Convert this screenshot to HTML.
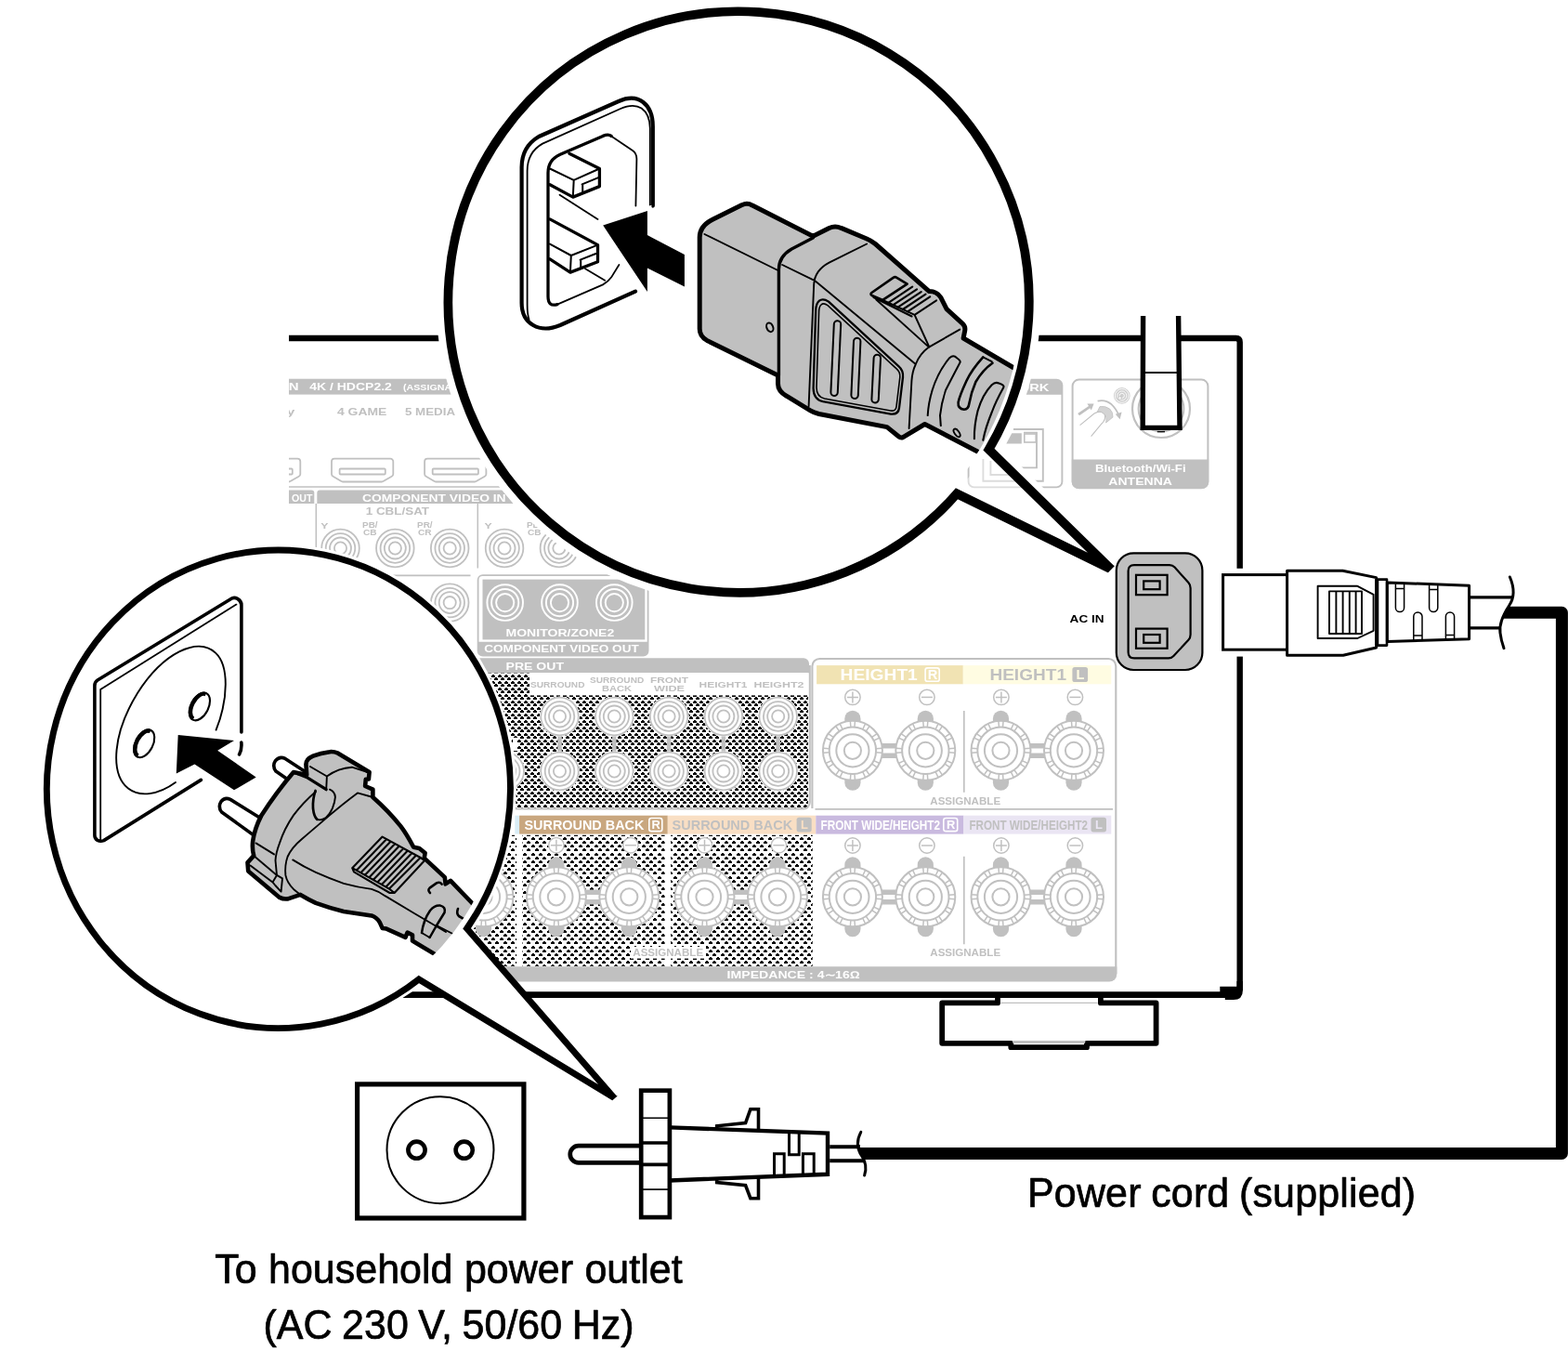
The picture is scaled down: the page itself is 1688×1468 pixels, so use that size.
<!DOCTYPE html>
<html lang="en">
<head>
<meta charset="utf-8">
<title>Connecting the power cord</title>
<style>
html,body{margin:0;padding:0;background:#fff;}
body{width:1688px;height:1468px;overflow:hidden;font-family:"Liberation Sans",sans-serif;}
svg{display:block;will-change:transform;}
svg text{font-family:"Liberation Sans",sans-serif;}
.k{fill:none;stroke:#000;stroke-linejoin:round;stroke-linecap:round;}
.kb{fill:none;stroke:#000;stroke-linejoin:miter;stroke-linecap:butt;}
.f{fill:#c0c0c0;stroke:#000;stroke-linejoin:round;stroke-linecap:round;}
.w{fill:#fff;stroke:#000;stroke-linejoin:round;stroke-linecap:round;}
.g{fill:none;stroke:#c0c0c0;stroke-linejoin:round;stroke-linecap:round;}
.lbl{font-weight:bold;fill:#fff;}
.glbl{font-weight:bold;fill:#c0c0c0;}
</style>
</head>
<body>
<svg width="1688" height="1468" viewBox="0 0 1688 1468">
<rect width="1688" height="1468" fill="#fff"/>
<g id="defs">
<defs>
<pattern id="dz" width="7" height="7" patternUnits="userSpaceOnUse" x="0" y="1">
<path d="M0 1h4v2h-4z M1 0h2v1h-2z M4 5h3v2h-3z M0 5h1v2h-1z M5 4h2v1h-2z" fill="#000" shape-rendering="crispEdges"/>
</pattern>
<pattern id="dz2" width="17" height="25" patternUnits="userSpaceOnUse" x="2" y="1">
<path d="M0 1h4v2h-4z M1 0h2v1h-2z M9 1h4v2h-4z M10 0h2v1h-2z M4 5h4v2h-4z M5 4h2v1h-2z M13 5h4v2h-4z M14 4h2v1h-2z M0 9h4v2h-4z M1 8h2v1h-2z M9 9h4v2h-4z M10 8h2v1h-2z M4 13h4v2h-4z M5 12h2v1h-2z M13 13h4v2h-4z M14 12h2v1h-2z M0 18h4v2h-4z M1 17h2v1h-2z M9 18h4v2h-4z M10 17h2v1h-2z M4 22h4v2h-4z M5 21h2v1h-2z M13 22h4v2h-4z M14 21h2v1h-2z" fill="#000" shape-rendering="crispEdges"/>
</pattern>
<clipPath id="panelclip"><rect x="311" y="380" width="1030" height="690"/></clipPath>
<clipPath id="topclip"><circle cx="795.1" cy="325" r="304.2"/></clipPath>
<clipPath id="botclip"><ellipse cx="299.9" cy="849.25" rx="240.4" ry="248"/></clipPath>
</defs>
</g>
<g id="panel">
<g clip-path="url(#panelclip)">
<rect x="300" y="407.7" width="260" height="16.9" fill="#c0c0c0"/>
<text x="321.6" y="420.3" font-size="11.8" font-weight="bold" fill="#fff" text-anchor="end" textLength="15" lengthAdjust="spacingAndGlyphs">IN</text>
<text x="333.2" y="420.3" font-size="11.8" font-weight="bold" fill="#fff" textLength="88.7" lengthAdjust="spacingAndGlyphs">4K / HDCP2.2</text>
<text x="434" y="420" font-size="9.4" font-weight="bold" fill="#fff" textLength="77" lengthAdjust="spacingAndGlyphs">(ASSIGNABLE)</text>
<text x="317.4" y="446.8" font-size="11.4" font-weight="bold" fill="#c0c0c0" text-anchor="end" textLength="66" lengthAdjust="spacingAndGlyphs">3 Blu-ray</text>
<text x="363" y="446.8" font-size="11.4" font-weight="bold" fill="#c0c0c0" textLength="53.4" lengthAdjust="spacingAndGlyphs">4 GAME</text>
<text x="436" y="446.8" font-size="11.4" font-weight="bold" fill="#c0c0c0" textLength="54" lengthAdjust="spacingAndGlyphs">5 MEDIA</text>
<path d="M260 493.7 H320.3 a3 3 0 0 1 3 3 V510.2 a3 3 0 0 1 -1.6 2.6 L312.5 517.9 a3 3 0 0 1 -1.5 .6 H269 a3 3 0 0 1 -1.5 -.6 L258.6 512.8 a3 3 0 0 1 -1.6 -2.6 V496.7 a3 3 0 0 1 3 -3 Z" fill="none" stroke="#c0c0c0" stroke-width="1.8"/>
<rect x="265.6" y="504.5" width="49.2" height="6" fill="none" stroke="#c0c0c0" stroke-width="1.8" rx="1"/>
<path d="M360 493.7 H420.3 a3 3 0 0 1 3 3 V510.2 a3 3 0 0 1 -1.6 2.6 L412.5 517.9 a3 3 0 0 1 -1.5 .6 H369 a3 3 0 0 1 -1.5 -.6 L358.6 512.8 a3 3 0 0 1 -1.6 -2.6 V496.7 a3 3 0 0 1 3 -3 Z" fill="none" stroke="#c0c0c0" stroke-width="1.8"/>
<rect x="365.6" y="504.5" width="49.2" height="6" fill="none" stroke="#c0c0c0" stroke-width="1.8" rx="1"/>
<path d="M460.1 493.7 H520.4 a3 3 0 0 1 3 3 V510.2 a3 3 0 0 1 -1.6 2.6 L512.6 517.9 a3 3 0 0 1 -1.5 .6 H469.1 a3 3 0 0 1 -1.5 -.6 L458.7 512.8 a3 3 0 0 1 -1.6 -2.6 V496.7 a3 3 0 0 1 3 -3 Z" fill="none" stroke="#c0c0c0" stroke-width="1.8"/>
<rect x="465.7" y="504.5" width="49.2" height="6" fill="none" stroke="#c0c0c0" stroke-width="1.8" rx="1"/>
<path d="M300 524 H560" fill="none" stroke="#c0c0c0" stroke-width="1.6"/>
<path d="M300 527.6 H335.3 A3 3 0 0 1 338.3 530.6 V542.1 H300 V527.6 Z" fill="#c0c0c0"/>
<text x="314" y="539.5" font-size="10.6" font-weight="bold" fill="#fff" textLength="22.4" lengthAdjust="spacingAndGlyphs">OUT</text>
<path d="M344.3 527.6 H570 V542.1 H341.3 V530.6 A3 3 0 0 1 344.3 527.6 Z" fill="#c0c0c0"/>
<text x="390" y="539.5" font-size="11" font-weight="bold" fill="#fff" textLength="154.6" lengthAdjust="spacingAndGlyphs">COMPONENT VIDEO IN</text>
<path d="M340.3 542 V612 M514.3 542 V611.6" fill="none" stroke="#c0c0c0" stroke-width="1.5"/>
<path d="M400 619.3 H506.5" fill="none" stroke="#c0c0c0" stroke-width="1.8"/>
<text x="393.7" y="554.3" font-size="10.4" font-weight="bold" fill="#c0c0c0" textLength="68.4" lengthAdjust="spacingAndGlyphs">1 CBL/SAT</text>
<text x="345.3" y="568.6" font-size="9.6" font-weight="bold" fill="#c0c0c0" textLength="8.2" lengthAdjust="spacingAndGlyphs">Y</text>
<text x="390" y="568.4" font-size="8.6" font-weight="bold" fill="#c0c0c0" textLength="16.6" lengthAdjust="spacingAndGlyphs">PB/</text>
<text x="391" y="576" font-size="8.6" font-weight="bold" fill="#c0c0c0" textLength="14.6" lengthAdjust="spacingAndGlyphs">CB</text>
<text x="449" y="568.4" font-size="8.6" font-weight="bold" fill="#c0c0c0" textLength="16.6" lengthAdjust="spacingAndGlyphs">PR/</text>
<text x="450" y="576" font-size="8.6" font-weight="bold" fill="#c0c0c0" textLength="14.6" lengthAdjust="spacingAndGlyphs">CR</text>
<text x="521.6" y="568.6" font-size="9.6" font-weight="bold" fill="#c0c0c0" textLength="8.2" lengthAdjust="spacingAndGlyphs">Y</text>
<text x="566.9" y="568.4" font-size="8.6" font-weight="bold" fill="#c0c0c0" textLength="16.6" lengthAdjust="spacingAndGlyphs">PB/</text>
<text x="567.9" y="576" font-size="8.6" font-weight="bold" fill="#c0c0c0" textLength="14.6" lengthAdjust="spacingAndGlyphs">CB</text>
<circle cx="366.5" cy="590" r="20.3" fill="none" stroke="#c0c0c0" stroke-width="1.8"/>
<circle cx="366.5" cy="590" r="15.8" fill="none" stroke="#c0c0c0" stroke-width="1.8"/>
<circle cx="366.5" cy="590" r="11.5" fill="none" stroke="#c0c0c0" stroke-width="1.8"/>
<circle cx="366.5" cy="590" r="6.6" fill="none" stroke="#c0c0c0" stroke-width="1.8"/>
<circle cx="425.35" cy="590" r="20.3" fill="none" stroke="#c0c0c0" stroke-width="1.8"/>
<circle cx="425.35" cy="590" r="15.8" fill="none" stroke="#c0c0c0" stroke-width="1.8"/>
<circle cx="425.35" cy="590" r="11.5" fill="none" stroke="#c0c0c0" stroke-width="1.8"/>
<circle cx="425.35" cy="590" r="6.6" fill="none" stroke="#c0c0c0" stroke-width="1.8"/>
<circle cx="484.2" cy="590" r="20.3" fill="none" stroke="#c0c0c0" stroke-width="1.8"/>
<circle cx="484.2" cy="590" r="15.8" fill="none" stroke="#c0c0c0" stroke-width="1.8"/>
<circle cx="484.2" cy="590" r="11.5" fill="none" stroke="#c0c0c0" stroke-width="1.8"/>
<circle cx="484.2" cy="590" r="6.6" fill="none" stroke="#c0c0c0" stroke-width="1.8"/>
<circle cx="543.05" cy="590" r="20.3" fill="none" stroke="#c0c0c0" stroke-width="1.8"/>
<circle cx="543.05" cy="590" r="15.8" fill="none" stroke="#c0c0c0" stroke-width="1.8"/>
<circle cx="543.05" cy="590" r="11.5" fill="none" stroke="#c0c0c0" stroke-width="1.8"/>
<circle cx="543.05" cy="590" r="6.6" fill="none" stroke="#c0c0c0" stroke-width="1.8"/>
<circle cx="601.9" cy="590" r="20.3" fill="none" stroke="#c0c0c0" stroke-width="1.8"/>
<circle cx="601.9" cy="590" r="15.8" fill="none" stroke="#c0c0c0" stroke-width="1.8"/>
<circle cx="601.9" cy="590" r="11.5" fill="none" stroke="#c0c0c0" stroke-width="1.8"/>
<circle cx="601.9" cy="590" r="6.6" fill="none" stroke="#c0c0c0" stroke-width="1.8"/>
<circle cx="366.5" cy="648.6" r="20.3" fill="none" stroke="#c0c0c0" stroke-width="1.8"/>
<circle cx="366.5" cy="648.6" r="15.8" fill="none" stroke="#c0c0c0" stroke-width="1.8"/>
<circle cx="366.5" cy="648.6" r="11.5" fill="none" stroke="#c0c0c0" stroke-width="1.8"/>
<circle cx="366.5" cy="648.6" r="6.6" fill="none" stroke="#c0c0c0" stroke-width="1.8"/>
<circle cx="425.35" cy="648.6" r="20.3" fill="none" stroke="#c0c0c0" stroke-width="1.8"/>
<circle cx="425.35" cy="648.6" r="15.8" fill="none" stroke="#c0c0c0" stroke-width="1.8"/>
<circle cx="425.35" cy="648.6" r="11.5" fill="none" stroke="#c0c0c0" stroke-width="1.8"/>
<circle cx="425.35" cy="648.6" r="6.6" fill="none" stroke="#c0c0c0" stroke-width="1.8"/>
<circle cx="484.2" cy="648.6" r="20.3" fill="none" stroke="#c0c0c0" stroke-width="1.8"/>
<circle cx="484.2" cy="648.6" r="15.8" fill="none" stroke="#c0c0c0" stroke-width="1.8"/>
<circle cx="484.2" cy="648.6" r="11.5" fill="none" stroke="#c0c0c0" stroke-width="1.8"/>
<circle cx="484.2" cy="648.6" r="6.6" fill="none" stroke="#c0c0c0" stroke-width="1.8"/>
<path d="M519.6 619.1 H692.6 A5 5 0 0 1 697.6 624.1 V700.5 A5 5 0 0 1 692.6 705.5 H519.6 A5 5 0 0 1 514.6 700.5 V624.1 A5 5 0 0 1 519.6 619.1 Z" fill="none" stroke="#c0c0c0" stroke-width="1.8"/>
<rect x="519.5" y="623.6" width="174.8" height="64.8" fill="#c0c0c0"/>
<circle cx="543.7" cy="648.6" r="19.3" fill="none" stroke="#fff" stroke-width="1.9"/>
<circle cx="543.7" cy="648.6" r="14.6" fill="none" stroke="#fff" stroke-width="1.9"/>
<circle cx="543.7" cy="648.6" r="9.6" fill="none" stroke="#fff" stroke-width="1.9"/>
<circle cx="602.5" cy="648.6" r="19.3" fill="none" stroke="#fff" stroke-width="1.9"/>
<circle cx="602.5" cy="648.6" r="14.6" fill="none" stroke="#fff" stroke-width="1.9"/>
<circle cx="602.5" cy="648.6" r="9.6" fill="none" stroke="#fff" stroke-width="1.9"/>
<circle cx="661.3" cy="648.6" r="19.3" fill="none" stroke="#fff" stroke-width="1.9"/>
<circle cx="661.3" cy="648.6" r="14.6" fill="none" stroke="#fff" stroke-width="1.9"/>
<circle cx="661.3" cy="648.6" r="9.6" fill="none" stroke="#fff" stroke-width="1.9"/>
<text x="544.5" y="685.3" font-size="11" font-weight="bold" fill="#fff" textLength="116.8" lengthAdjust="spacingAndGlyphs">MONITOR/ZONE2</text>
<path d="M515 690.8 H697.6 V700.5 A5 5 0 0 1 692.6 705.5 H520 A5 5 0 0 1 515 700.5 V690.8 Z" fill="#c0c0c0"/>
<text x="521.3" y="701.8" font-size="11" font-weight="bold" fill="#fff" textLength="166.4" lengthAdjust="spacingAndGlyphs">COMPONENT VIDEO OUT</text>
<path d="M500 708.2 H865 A6 6 0 0 1 871 714.2 V724.6 H500 V708.2 Z" fill="#c0c0c0"/>
<text x="544.5" y="720.9" font-size="11.4" font-weight="bold" fill="#fff" textLength="62.5" lengthAdjust="spacingAndGlyphs">PRE OUT</text>
<rect x="500" y="724.6" width="370" height="144.9" fill="url(#dz)"/>
<rect x="570" y="724" width="300.6" height="24.4" fill="#fff"/>
<path d="M871.8 716 V863 a7 7 0 0 1 -7 7.4 H500" fill="none" stroke="#c0c0c0" stroke-width="2"/>
<text x="571" y="740" font-size="9.6" font-weight="bold" fill="#c0c0c0" textLength="58.5" lengthAdjust="spacingAndGlyphs">SURROUND</text>
<text x="664.1" y="735" font-size="8.6" font-weight="bold" fill="#c0c0c0" text-anchor="middle" textLength="58.2" lengthAdjust="spacingAndGlyphs">SURROUND</text>
<text x="664.1" y="744.2" font-size="8.6" font-weight="bold" fill="#c0c0c0" text-anchor="middle" textLength="32" lengthAdjust="spacingAndGlyphs">BACK</text>
<text x="720.5" y="735" font-size="8.6" font-weight="bold" fill="#c0c0c0" text-anchor="middle" textLength="41" lengthAdjust="spacingAndGlyphs">FRONT</text>
<text x="720.5" y="744.2" font-size="8.6" font-weight="bold" fill="#c0c0c0" text-anchor="middle" textLength="33" lengthAdjust="spacingAndGlyphs">WIDE</text>
<text x="752.5" y="740" font-size="9.6" font-weight="bold" fill="#c0c0c0" textLength="52" lengthAdjust="spacingAndGlyphs">HEIGHT1</text>
<text x="811.5" y="740" font-size="9.6" font-weight="bold" fill="#c0c0c0" textLength="54" lengthAdjust="spacingAndGlyphs">HEIGHT2</text>
<circle cx="543.7" cy="830" r="21.6" fill="#fff"/>
<circle cx="543.7" cy="830" r="20.3" fill="none" stroke="#c0c0c0" stroke-width="1.8"/>
<circle cx="543.7" cy="830" r="15.8" fill="none" stroke="#c0c0c0" stroke-width="1.8"/>
<circle cx="543.7" cy="830" r="11.5" fill="none" stroke="#c0c0c0" stroke-width="1.8"/>
<circle cx="543.7" cy="830" r="6.6" fill="none" stroke="#c0c0c0" stroke-width="1.8"/>
<rect x="600.2" y="771" width="4.6" height="59" fill="#c0c0c0"/>
<circle cx="602.5" cy="771" r="21.6" fill="#fff"/>
<circle cx="602.5" cy="771" r="20.3" fill="none" stroke="#c0c0c0" stroke-width="1.8"/>
<circle cx="602.5" cy="771" r="15.8" fill="none" stroke="#c0c0c0" stroke-width="1.8"/>
<circle cx="602.5" cy="771" r="11.5" fill="none" stroke="#c0c0c0" stroke-width="1.8"/>
<circle cx="602.5" cy="771" r="6.6" fill="none" stroke="#c0c0c0" stroke-width="1.8"/>
<circle cx="602.5" cy="830" r="21.6" fill="#fff"/>
<circle cx="602.5" cy="830" r="20.3" fill="none" stroke="#c0c0c0" stroke-width="1.8"/>
<circle cx="602.5" cy="830" r="15.8" fill="none" stroke="#c0c0c0" stroke-width="1.8"/>
<circle cx="602.5" cy="830" r="11.5" fill="none" stroke="#c0c0c0" stroke-width="1.8"/>
<circle cx="602.5" cy="830" r="6.6" fill="none" stroke="#c0c0c0" stroke-width="1.8"/>
<rect x="659" y="771" width="4.6" height="59" fill="#c0c0c0"/>
<circle cx="661.3" cy="771" r="21.6" fill="#fff"/>
<circle cx="661.3" cy="771" r="20.3" fill="none" stroke="#c0c0c0" stroke-width="1.8"/>
<circle cx="661.3" cy="771" r="15.8" fill="none" stroke="#c0c0c0" stroke-width="1.8"/>
<circle cx="661.3" cy="771" r="11.5" fill="none" stroke="#c0c0c0" stroke-width="1.8"/>
<circle cx="661.3" cy="771" r="6.6" fill="none" stroke="#c0c0c0" stroke-width="1.8"/>
<circle cx="661.3" cy="830" r="21.6" fill="#fff"/>
<circle cx="661.3" cy="830" r="20.3" fill="none" stroke="#c0c0c0" stroke-width="1.8"/>
<circle cx="661.3" cy="830" r="15.8" fill="none" stroke="#c0c0c0" stroke-width="1.8"/>
<circle cx="661.3" cy="830" r="11.5" fill="none" stroke="#c0c0c0" stroke-width="1.8"/>
<circle cx="661.3" cy="830" r="6.6" fill="none" stroke="#c0c0c0" stroke-width="1.8"/>
<rect x="717.8" y="771" width="4.6" height="59" fill="#c0c0c0"/>
<circle cx="720.1" cy="771" r="21.6" fill="#fff"/>
<circle cx="720.1" cy="771" r="20.3" fill="none" stroke="#c0c0c0" stroke-width="1.8"/>
<circle cx="720.1" cy="771" r="15.8" fill="none" stroke="#c0c0c0" stroke-width="1.8"/>
<circle cx="720.1" cy="771" r="11.5" fill="none" stroke="#c0c0c0" stroke-width="1.8"/>
<circle cx="720.1" cy="771" r="6.6" fill="none" stroke="#c0c0c0" stroke-width="1.8"/>
<circle cx="720.1" cy="830" r="21.6" fill="#fff"/>
<circle cx="720.1" cy="830" r="20.3" fill="none" stroke="#c0c0c0" stroke-width="1.8"/>
<circle cx="720.1" cy="830" r="15.8" fill="none" stroke="#c0c0c0" stroke-width="1.8"/>
<circle cx="720.1" cy="830" r="11.5" fill="none" stroke="#c0c0c0" stroke-width="1.8"/>
<circle cx="720.1" cy="830" r="6.6" fill="none" stroke="#c0c0c0" stroke-width="1.8"/>
<rect x="776.6" y="771" width="4.6" height="59" fill="#c0c0c0"/>
<circle cx="778.9" cy="771" r="21.6" fill="#fff"/>
<circle cx="778.9" cy="771" r="20.3" fill="none" stroke="#c0c0c0" stroke-width="1.8"/>
<circle cx="778.9" cy="771" r="15.8" fill="none" stroke="#c0c0c0" stroke-width="1.8"/>
<circle cx="778.9" cy="771" r="11.5" fill="none" stroke="#c0c0c0" stroke-width="1.8"/>
<circle cx="778.9" cy="771" r="6.6" fill="none" stroke="#c0c0c0" stroke-width="1.8"/>
<circle cx="778.9" cy="830" r="21.6" fill="#fff"/>
<circle cx="778.9" cy="830" r="20.3" fill="none" stroke="#c0c0c0" stroke-width="1.8"/>
<circle cx="778.9" cy="830" r="15.8" fill="none" stroke="#c0c0c0" stroke-width="1.8"/>
<circle cx="778.9" cy="830" r="11.5" fill="none" stroke="#c0c0c0" stroke-width="1.8"/>
<circle cx="778.9" cy="830" r="6.6" fill="none" stroke="#c0c0c0" stroke-width="1.8"/>
<rect x="835.4" y="771" width="4.6" height="59" fill="#c0c0c0"/>
<circle cx="837.7" cy="771" r="21.6" fill="#fff"/>
<circle cx="837.7" cy="771" r="20.3" fill="none" stroke="#c0c0c0" stroke-width="1.8"/>
<circle cx="837.7" cy="771" r="15.8" fill="none" stroke="#c0c0c0" stroke-width="1.8"/>
<circle cx="837.7" cy="771" r="11.5" fill="none" stroke="#c0c0c0" stroke-width="1.8"/>
<circle cx="837.7" cy="771" r="6.6" fill="none" stroke="#c0c0c0" stroke-width="1.8"/>
<circle cx="837.7" cy="830" r="21.6" fill="#fff"/>
<circle cx="837.7" cy="830" r="20.3" fill="none" stroke="#c0c0c0" stroke-width="1.8"/>
<circle cx="837.7" cy="830" r="15.8" fill="none" stroke="#c0c0c0" stroke-width="1.8"/>
<circle cx="837.7" cy="830" r="11.5" fill="none" stroke="#c0c0c0" stroke-width="1.8"/>
<circle cx="837.7" cy="830" r="6.6" fill="none" stroke="#c0c0c0" stroke-width="1.8"/>
<rect x="552" y="794" width="5" height="14" fill="#fff"/>
<path d="M874.4 870 V717 a8 8 0 0 1 8 -8 H1193.3 a8 8 0 0 1 8 8 V1048" fill="none" stroke="#c0c0c0" stroke-width="2.1"/>
<path d="M480 1040.2 H1202.3 V1048.6 A8 8 0 0 1 1194.3 1056.6 H480 V1040.2 Z" fill="#c0c0c0"/>
<text x="782.6" y="1052.6" font-size="11" font-weight="bold" fill="#fff" textLength="143" lengthAdjust="spacingAndGlyphs">IMPEDANCE : 4∼16Ω</text>
<path d="M877.5 870.9 H1198" fill="none" stroke="#c0c0c0" stroke-width="1.8"/>
<rect x="879.1" y="716.1" width="157.7" height="20.2" fill="#f1e3b3"/>
<text x="904.6" y="731.9" font-size="17" font-weight="bold" fill="#fff" textLength="83.2" lengthAdjust="spacingAndGlyphs">HEIGHT1</text>
<rect x="996.1" y="718.9" width="15.1" height="14.4" fill="none" stroke="#fff" stroke-width="1.6" rx="2.4"/>
<text x="1003.95" y="731.3" font-size="14.62" font-weight="bold" fill="#fff" text-anchor="middle">R</text>
<rect x="1036.8" y="716.1" width="159.5" height="20.2" fill="#fffce2"/>
<text x="1065.4" y="731.9" font-size="17" font-weight="bold" fill="#c0c0c0" textLength="82.6" lengthAdjust="spacingAndGlyphs">HEIGHT1</text>
<rect x="1154.4" y="718.1" width="16.7" height="16" fill="#c0c0c0" rx="2.6"/>
<text x="1163.05" y="731.3" font-size="14.62" font-weight="bold" fill="#fffce2" text-anchor="middle">L</text>
<rect x="554.3" y="877.7" width="4.8" height="19.9" fill="#d9edf6"/>
<rect x="559.1" y="877.7" width="159.7" height="19.9" fill="#c9a77f"/>
<text x="564.5" y="892.9" font-size="15" font-weight="bold" fill="#fff" textLength="128.9" lengthAdjust="spacingAndGlyphs">SURROUND BACK</text>
<rect x="698.8" y="880.5" width="14" height="14.1" fill="none" stroke="#fff" stroke-width="1.6" rx="2.4"/>
<text x="706.1" y="892.3" font-size="12.9" font-weight="bold" fill="#fff" text-anchor="middle">R</text>
<rect x="718.8" y="877.7" width="159.5" height="19.9" fill="#f9dfc4"/>
<text x="723.6" y="892.9" font-size="15" font-weight="bold" fill="#c0c0c0" textLength="129.5" lengthAdjust="spacingAndGlyphs">SURROUND BACK</text>
<rect x="857.6" y="879.7" width="16.1" height="15.7" fill="#c0c0c0" rx="2.6"/>
<text x="865.95" y="892.3" font-size="12.9" font-weight="bold" fill="#f9dfc4" text-anchor="middle">L</text>
<rect x="878.3" y="877.7" width="159.1" height="19.9" fill="#c9badf"/>
<text x="883.5" y="892.9" font-size="15" font-weight="bold" fill="#fff" textLength="128.5" lengthAdjust="spacingAndGlyphs">FRONT WIDE/HEIGHT2</text>
<rect x="1015.8" y="880.5" width="14.9" height="14.1" fill="none" stroke="#fff" stroke-width="1.6" rx="2.4"/>
<text x="1023.55" y="892.3" font-size="12.9" font-weight="bold" fill="#fff" text-anchor="middle">R</text>
<rect x="1037.4" y="877.7" width="158.9" height="19.9" fill="#eae5f3"/>
<text x="1043.5" y="892.9" font-size="15" font-weight="bold" fill="#c0c0c0" textLength="127.5" lengthAdjust="spacingAndGlyphs">FRONT WIDE/HEIGHT2</text>
<rect x="1174.5" y="879.7" width="16.5" height="15.7" fill="#c0c0c0" rx="2.6"/>
<text x="1183.05" y="892.3" font-size="12.9" font-weight="bold" fill="#eae5f3" text-anchor="middle">L</text>
<rect x="500" y="898.8" width="56" height="141" fill="url(#dz2)"/>
<rect x="562.5" y="898.8" width="153.1" height="141" fill="url(#dz2)"/>
<rect x="722.2" y="898.8" width="152.5" height="141" fill="url(#dz2)"/>
<rect x="679" y="1019" width="81" height="12.6" fill="#fff"/>
<rect x="942.9" y="800" width="28.4" height="16" fill="#c0c0c0"/>
<rect x="942.9" y="805.5" width="28.4" height="5" fill="#fff"/>
<path d="M909.3 777.8 V773.4 a8.6 8.6 0 0 1 17.2 0 V777.8 Z" fill="#c0c0c0"/>
<path d="M909.3 837.8 V842.2 a8.6 8.6 0 0 0 17.2 0 V837.8 Z" fill="#c0c0c0"/>
<circle cx="917.9" cy="807.8" r="32" fill="#fff" stroke="#c0c0c0" stroke-width="2"/>
<circle cx="917.9" cy="807.8" r="25.2" fill="none" stroke="#c0c0c0" stroke-width="2"/>
<path d="M915.88 782.68 L915.33 775.9 M919.92 782.68 L920.47 775.9 M928.71 785.04 L931.63 778.89 M932.21 787.06 L936.07 781.46 M938.64 793.49 L944.24 789.63 M940.66 796.99 L946.81 794.07 M943.02 805.78 L949.8 805.23 M943.02 809.82 L949.8 810.37 M940.66 818.61 L946.81 821.53 M938.64 822.11 L944.24 825.97 M932.21 828.54 L936.07 834.14 M928.71 830.56 L931.63 836.71 M919.92 832.92 L920.47 839.7 M915.88 832.92 L915.33 839.7 M907.09 830.56 L904.17 836.71 M903.59 828.54 L899.73 834.14 M897.16 822.11 L891.56 825.97 M895.14 818.61 L888.99 821.53 M892.78 809.82 L886 810.37 M892.78 805.78 L886 805.23 M895.14 796.99 L888.99 794.07 M897.16 793.49 L891.56 789.63 M903.59 787.06 L899.73 781.46 M907.09 785.04 L904.17 778.89" fill="none" stroke="#c0c0c0" stroke-width="1.5"/>
<circle cx="917.9" cy="807.8" r="17.6" fill="none" stroke="#c0c0c0" stroke-width="2"/>
<circle cx="917.9" cy="807.8" r="9.1" fill="none" stroke="#c0c0c0" stroke-width="2"/>
<path d="M987.7 777.8 V773.4 a8.6 8.6 0 0 1 17.2 0 V777.8 Z" fill="#c0c0c0"/>
<path d="M987.7 837.8 V842.2 a8.6 8.6 0 0 0 17.2 0 V837.8 Z" fill="#c0c0c0"/>
<circle cx="996.3" cy="807.8" r="32" fill="#fff" stroke="#c0c0c0" stroke-width="2"/>
<circle cx="996.3" cy="807.8" r="25.2" fill="none" stroke="#c0c0c0" stroke-width="2"/>
<path d="M994.28 782.68 L993.73 775.9 M998.32 782.68 L998.87 775.9 M1007.11 785.04 L1010.03 778.89 M1010.61 787.06 L1014.47 781.46 M1017.04 793.49 L1022.64 789.63 M1019.06 796.99 L1025.21 794.07 M1021.42 805.78 L1028.2 805.23 M1021.42 809.82 L1028.2 810.37 M1019.06 818.61 L1025.21 821.53 M1017.04 822.11 L1022.64 825.97 M1010.61 828.54 L1014.47 834.14 M1007.11 830.56 L1010.03 836.71 M998.32 832.92 L998.87 839.7 M994.28 832.92 L993.73 839.7 M985.49 830.56 L982.57 836.71 M981.99 828.54 L978.13 834.14 M975.56 822.11 L969.96 825.97 M973.54 818.61 L967.39 821.53 M971.18 809.82 L964.4 810.37 M971.18 805.78 L964.4 805.23 M973.54 796.99 L967.39 794.07 M975.56 793.49 L969.96 789.63 M981.99 787.06 L978.13 781.46 M985.49 785.04 L982.57 778.89" fill="none" stroke="#c0c0c0" stroke-width="1.5"/>
<circle cx="996.3" cy="807.8" r="17.6" fill="none" stroke="#c0c0c0" stroke-width="2"/>
<circle cx="996.3" cy="807.8" r="9.1" fill="none" stroke="#c0c0c0" stroke-width="2"/>
<rect x="1102.5" y="800" width="28.5" height="16" fill="#c0c0c0"/>
<rect x="1102.5" y="805.5" width="28.5" height="5" fill="#fff"/>
<path d="M1068.9 777.8 V773.4 a8.6 8.6 0 0 1 17.2 0 V777.8 Z" fill="#c0c0c0"/>
<path d="M1068.9 837.8 V842.2 a8.6 8.6 0 0 0 17.2 0 V837.8 Z" fill="#c0c0c0"/>
<circle cx="1077.5" cy="807.8" r="32" fill="#fff" stroke="#c0c0c0" stroke-width="2"/>
<circle cx="1077.5" cy="807.8" r="25.2" fill="none" stroke="#c0c0c0" stroke-width="2"/>
<path d="M1075.48 782.68 L1074.93 775.9 M1079.52 782.68 L1080.07 775.9 M1088.31 785.04 L1091.23 778.89 M1091.81 787.06 L1095.67 781.46 M1098.24 793.49 L1103.84 789.63 M1100.26 796.99 L1106.41 794.07 M1102.62 805.78 L1109.4 805.23 M1102.62 809.82 L1109.4 810.37 M1100.26 818.61 L1106.41 821.53 M1098.24 822.11 L1103.84 825.97 M1091.81 828.54 L1095.67 834.14 M1088.31 830.56 L1091.23 836.71 M1079.52 832.92 L1080.07 839.7 M1075.48 832.92 L1074.93 839.7 M1066.69 830.56 L1063.77 836.71 M1063.19 828.54 L1059.33 834.14 M1056.76 822.11 L1051.16 825.97 M1054.74 818.61 L1048.59 821.53 M1052.38 809.82 L1045.6 810.37 M1052.38 805.78 L1045.6 805.23 M1054.74 796.99 L1048.59 794.07 M1056.76 793.49 L1051.16 789.63 M1063.19 787.06 L1059.33 781.46 M1066.69 785.04 L1063.77 778.89" fill="none" stroke="#c0c0c0" stroke-width="1.5"/>
<circle cx="1077.5" cy="807.8" r="17.6" fill="none" stroke="#c0c0c0" stroke-width="2"/>
<circle cx="1077.5" cy="807.8" r="9.1" fill="none" stroke="#c0c0c0" stroke-width="2"/>
<path d="M1147.4 777.8 V773.4 a8.6 8.6 0 0 1 17.2 0 V777.8 Z" fill="#c0c0c0"/>
<path d="M1147.4 837.8 V842.2 a8.6 8.6 0 0 0 17.2 0 V837.8 Z" fill="#c0c0c0"/>
<circle cx="1156" cy="807.8" r="32" fill="#fff" stroke="#c0c0c0" stroke-width="2"/>
<circle cx="1156" cy="807.8" r="25.2" fill="none" stroke="#c0c0c0" stroke-width="2"/>
<path d="M1153.98 782.68 L1153.43 775.9 M1158.02 782.68 L1158.57 775.9 M1166.81 785.04 L1169.73 778.89 M1170.31 787.06 L1174.17 781.46 M1176.74 793.49 L1182.34 789.63 M1178.76 796.99 L1184.91 794.07 M1181.12 805.78 L1187.9 805.23 M1181.12 809.82 L1187.9 810.37 M1178.76 818.61 L1184.91 821.53 M1176.74 822.11 L1182.34 825.97 M1170.31 828.54 L1174.17 834.14 M1166.81 830.56 L1169.73 836.71 M1158.02 832.92 L1158.57 839.7 M1153.98 832.92 L1153.43 839.7 M1145.19 830.56 L1142.27 836.71 M1141.69 828.54 L1137.83 834.14 M1135.26 822.11 L1129.66 825.97 M1133.24 818.61 L1127.09 821.53 M1130.88 809.82 L1124.1 810.37 M1130.88 805.78 L1124.1 805.23 M1133.24 796.99 L1127.09 794.07 M1135.26 793.49 L1129.66 789.63 M1141.69 787.06 L1137.83 781.46 M1145.19 785.04 L1142.27 778.89" fill="none" stroke="#c0c0c0" stroke-width="1.5"/>
<circle cx="1156" cy="807.8" r="17.6" fill="none" stroke="#c0c0c0" stroke-width="2"/>
<circle cx="1156" cy="807.8" r="9.1" fill="none" stroke="#c0c0c0" stroke-width="2"/>
<circle cx="917.9" cy="750.4" r="8.2" fill="none" stroke="#c0c0c0" stroke-width="1.5"/>
<path d="M911.9 750.4 H923.9 M917.9 744.4 V756.4" fill="none" stroke="#c0c0c0" stroke-width="1.5"/>
<circle cx="997.9" cy="750.4" r="8.2" fill="none" stroke="#c0c0c0" stroke-width="1.5"/>
<path d="M991.9 750.4 H1003.9" fill="none" stroke="#c0c0c0" stroke-width="1.5"/>
<circle cx="1077.9" cy="750.4" r="8.2" fill="none" stroke="#c0c0c0" stroke-width="1.5"/>
<path d="M1071.9 750.4 H1083.9 M1077.9 744.4 V756.4" fill="none" stroke="#c0c0c0" stroke-width="1.5"/>
<circle cx="1157.4" cy="750.4" r="8.2" fill="none" stroke="#c0c0c0" stroke-width="1.5"/>
<path d="M1151.4 750.4 H1163.4" fill="none" stroke="#c0c0c0" stroke-width="1.5"/>
<path d="M1037.8 765 V852.7 M1037.8 921.8 V1016.3" fill="none" stroke="#c0c0c0" stroke-width="1.7"/>
<text x="1001.3" y="865.6" font-size="10.2" font-weight="bold" fill="#c0c0c0" textLength="75.8" lengthAdjust="spacingAndGlyphs">ASSIGNABLE</text>
<rect x="465.5" y="957.5" width="30" height="16" fill="#c0c0c0"/>
<rect x="465.5" y="963" width="30" height="5" fill="#fff"/>
<path d="M431.9 935.3 V930.9 a8.6 8.6 0 0 1 17.2 0 V935.3 Z" fill="#c0c0c0"/>
<path d="M431.9 995.3 V999.7 a8.6 8.6 0 0 0 17.2 0 V995.3 Z" fill="#c0c0c0"/>
<circle cx="440.5" cy="965.3" r="32" fill="#fff" stroke="#c0c0c0" stroke-width="2"/>
<circle cx="440.5" cy="965.3" r="25.2" fill="none" stroke="#c0c0c0" stroke-width="2"/>
<path d="M438.48 940.18 L437.93 933.4 M442.52 940.18 L443.07 933.4 M451.31 942.54 L454.23 936.39 M454.81 944.56 L458.67 938.96 M461.24 950.99 L466.84 947.13 M463.26 954.49 L469.41 951.57 M465.62 963.28 L472.4 962.73 M465.62 967.32 L472.4 967.87 M463.26 976.11 L469.41 979.03 M461.24 979.61 L466.84 983.47 M454.81 986.04 L458.67 991.64 M451.31 988.06 L454.23 994.21 M442.52 990.42 L443.07 997.2 M438.48 990.42 L437.93 997.2 M429.69 988.06 L426.77 994.21 M426.19 986.04 L422.33 991.64 M419.76 979.61 L414.16 983.47 M417.74 976.11 L411.59 979.03 M415.38 967.32 L408.6 967.87 M415.38 963.28 L408.6 962.73 M417.74 954.49 L411.59 951.57 M419.76 950.99 L414.16 947.13 M426.19 944.56 L422.33 938.96 M429.69 942.54 L426.77 936.39" fill="none" stroke="#c0c0c0" stroke-width="1.5"/>
<circle cx="440.5" cy="965.3" r="17.6" fill="none" stroke="#c0c0c0" stroke-width="2"/>
<circle cx="440.5" cy="965.3" r="9.1" fill="none" stroke="#c0c0c0" stroke-width="2"/>
<path d="M511.9 935.3 V930.9 a8.6 8.6 0 0 1 17.2 0 V935.3 Z" fill="#c0c0c0"/>
<path d="M511.9 995.3 V999.7 a8.6 8.6 0 0 0 17.2 0 V995.3 Z" fill="#c0c0c0"/>
<circle cx="520.5" cy="965.3" r="32" fill="#fff" stroke="#c0c0c0" stroke-width="2"/>
<circle cx="520.5" cy="965.3" r="25.2" fill="none" stroke="#c0c0c0" stroke-width="2"/>
<path d="M518.48 940.18 L517.93 933.4 M522.52 940.18 L523.07 933.4 M531.31 942.54 L534.23 936.39 M534.81 944.56 L538.67 938.96 M541.24 950.99 L546.84 947.13 M543.26 954.49 L549.41 951.57 M545.62 963.28 L552.4 962.73 M545.62 967.32 L552.4 967.87 M543.26 976.11 L549.41 979.03 M541.24 979.61 L546.84 983.47 M534.81 986.04 L538.67 991.64 M531.31 988.06 L534.23 994.21 M522.52 990.42 L523.07 997.2 M518.48 990.42 L517.93 997.2 M509.69 988.06 L506.77 994.21 M506.19 986.04 L502.33 991.64 M499.76 979.61 L494.16 983.47 M497.74 976.11 L491.59 979.03 M495.38 967.32 L488.6 967.87 M495.38 963.28 L488.6 962.73 M497.74 954.49 L491.59 951.57 M499.76 950.99 L494.16 947.13 M506.19 944.56 L502.33 938.96 M509.69 942.54 L506.77 936.39" fill="none" stroke="#c0c0c0" stroke-width="1.5"/>
<circle cx="520.5" cy="965.3" r="17.6" fill="none" stroke="#c0c0c0" stroke-width="2"/>
<circle cx="520.5" cy="965.3" r="9.1" fill="none" stroke="#c0c0c0" stroke-width="2"/>
<rect x="623.9" y="957.5" width="28.4" height="16" fill="#c0c0c0"/>
<rect x="623.9" y="963" width="28.4" height="5" fill="#fff"/>
<path d="M590.3 935.3 V930.9 a8.6 8.6 0 0 1 17.2 0 V935.3 Z" fill="#c0c0c0"/>
<path d="M590.3 995.3 V999.7 a8.6 8.6 0 0 0 17.2 0 V995.3 Z" fill="#c0c0c0"/>
<circle cx="598.9" cy="965.3" r="32" fill="#fff" stroke="#c0c0c0" stroke-width="2"/>
<circle cx="598.9" cy="965.3" r="25.2" fill="none" stroke="#c0c0c0" stroke-width="2"/>
<path d="M596.88 940.18 L596.33 933.4 M600.92 940.18 L601.47 933.4 M609.71 942.54 L612.63 936.39 M613.21 944.56 L617.07 938.96 M619.64 950.99 L625.24 947.13 M621.66 954.49 L627.81 951.57 M624.02 963.28 L630.8 962.73 M624.02 967.32 L630.8 967.87 M621.66 976.11 L627.81 979.03 M619.64 979.61 L625.24 983.47 M613.21 986.04 L617.07 991.64 M609.71 988.06 L612.63 994.21 M600.92 990.42 L601.47 997.2 M596.88 990.42 L596.33 997.2 M588.09 988.06 L585.17 994.21 M584.59 986.04 L580.73 991.64 M578.16 979.61 L572.56 983.47 M576.14 976.11 L569.99 979.03 M573.78 967.32 L567 967.87 M573.78 963.28 L567 962.73 M576.14 954.49 L569.99 951.57 M578.16 950.99 L572.56 947.13 M584.59 944.56 L580.73 938.96 M588.09 942.54 L585.17 936.39" fill="none" stroke="#c0c0c0" stroke-width="1.5"/>
<circle cx="598.9" cy="965.3" r="17.6" fill="none" stroke="#c0c0c0" stroke-width="2"/>
<circle cx="598.9" cy="965.3" r="9.1" fill="none" stroke="#c0c0c0" stroke-width="2"/>
<path d="M668.7 935.3 V930.9 a8.6 8.6 0 0 1 17.2 0 V935.3 Z" fill="#c0c0c0"/>
<path d="M668.7 995.3 V999.7 a8.6 8.6 0 0 0 17.2 0 V995.3 Z" fill="#c0c0c0"/>
<circle cx="677.3" cy="965.3" r="32" fill="#fff" stroke="#c0c0c0" stroke-width="2"/>
<circle cx="677.3" cy="965.3" r="25.2" fill="none" stroke="#c0c0c0" stroke-width="2"/>
<path d="M675.28 940.18 L674.73 933.4 M679.32 940.18 L679.87 933.4 M688.11 942.54 L691.03 936.39 M691.61 944.56 L695.47 938.96 M698.04 950.99 L703.64 947.13 M700.06 954.49 L706.21 951.57 M702.42 963.28 L709.2 962.73 M702.42 967.32 L709.2 967.87 M700.06 976.11 L706.21 979.03 M698.04 979.61 L703.64 983.47 M691.61 986.04 L695.47 991.64 M688.11 988.06 L691.03 994.21 M679.32 990.42 L679.87 997.2 M675.28 990.42 L674.73 997.2 M666.49 988.06 L663.57 994.21 M662.99 986.04 L659.13 991.64 M656.56 979.61 L650.96 983.47 M654.54 976.11 L648.39 979.03 M652.18 967.32 L645.4 967.87 M652.18 963.28 L645.4 962.73 M654.54 954.49 L648.39 951.57 M656.56 950.99 L650.96 947.13 M662.99 944.56 L659.13 938.96 M666.49 942.54 L663.57 936.39" fill="none" stroke="#c0c0c0" stroke-width="1.5"/>
<circle cx="677.3" cy="965.3" r="17.6" fill="none" stroke="#c0c0c0" stroke-width="2"/>
<circle cx="677.3" cy="965.3" r="9.1" fill="none" stroke="#c0c0c0" stroke-width="2"/>
<rect x="783.5" y="957.5" width="28.5" height="16" fill="#c0c0c0"/>
<rect x="783.5" y="963" width="28.5" height="5" fill="#fff"/>
<path d="M749.9 935.3 V930.9 a8.6 8.6 0 0 1 17.2 0 V935.3 Z" fill="#c0c0c0"/>
<path d="M749.9 995.3 V999.7 a8.6 8.6 0 0 0 17.2 0 V995.3 Z" fill="#c0c0c0"/>
<circle cx="758.5" cy="965.3" r="32" fill="#fff" stroke="#c0c0c0" stroke-width="2"/>
<circle cx="758.5" cy="965.3" r="25.2" fill="none" stroke="#c0c0c0" stroke-width="2"/>
<path d="M756.48 940.18 L755.93 933.4 M760.52 940.18 L761.07 933.4 M769.31 942.54 L772.23 936.39 M772.81 944.56 L776.67 938.96 M779.24 950.99 L784.84 947.13 M781.26 954.49 L787.41 951.57 M783.62 963.28 L790.4 962.73 M783.62 967.32 L790.4 967.87 M781.26 976.11 L787.41 979.03 M779.24 979.61 L784.84 983.47 M772.81 986.04 L776.67 991.64 M769.31 988.06 L772.23 994.21 M760.52 990.42 L761.07 997.2 M756.48 990.42 L755.93 997.2 M747.69 988.06 L744.77 994.21 M744.19 986.04 L740.33 991.64 M737.76 979.61 L732.16 983.47 M735.74 976.11 L729.59 979.03 M733.38 967.32 L726.6 967.87 M733.38 963.28 L726.6 962.73 M735.74 954.49 L729.59 951.57 M737.76 950.99 L732.16 947.13 M744.19 944.56 L740.33 938.96 M747.69 942.54 L744.77 936.39" fill="none" stroke="#c0c0c0" stroke-width="1.5"/>
<circle cx="758.5" cy="965.3" r="17.6" fill="none" stroke="#c0c0c0" stroke-width="2"/>
<circle cx="758.5" cy="965.3" r="9.1" fill="none" stroke="#c0c0c0" stroke-width="2"/>
<path d="M828.4 935.3 V930.9 a8.6 8.6 0 0 1 17.2 0 V935.3 Z" fill="#c0c0c0"/>
<path d="M828.4 995.3 V999.7 a8.6 8.6 0 0 0 17.2 0 V995.3 Z" fill="#c0c0c0"/>
<circle cx="837" cy="965.3" r="32" fill="#fff" stroke="#c0c0c0" stroke-width="2"/>
<circle cx="837" cy="965.3" r="25.2" fill="none" stroke="#c0c0c0" stroke-width="2"/>
<path d="M834.98 940.18 L834.43 933.4 M839.02 940.18 L839.57 933.4 M847.81 942.54 L850.73 936.39 M851.31 944.56 L855.17 938.96 M857.74 950.99 L863.34 947.13 M859.76 954.49 L865.91 951.57 M862.12 963.28 L868.9 962.73 M862.12 967.32 L868.9 967.87 M859.76 976.11 L865.91 979.03 M857.74 979.61 L863.34 983.47 M851.31 986.04 L855.17 991.64 M847.81 988.06 L850.73 994.21 M839.02 990.42 L839.57 997.2 M834.98 990.42 L834.43 997.2 M826.19 988.06 L823.27 994.21 M822.69 986.04 L818.83 991.64 M816.26 979.61 L810.66 983.47 M814.24 976.11 L808.09 979.03 M811.88 967.32 L805.1 967.87 M811.88 963.28 L805.1 962.73 M814.24 954.49 L808.09 951.57 M816.26 950.99 L810.66 947.13 M822.69 944.56 L818.83 938.96 M826.19 942.54 L823.27 936.39" fill="none" stroke="#c0c0c0" stroke-width="1.5"/>
<circle cx="837" cy="965.3" r="17.6" fill="none" stroke="#c0c0c0" stroke-width="2"/>
<circle cx="837" cy="965.3" r="9.1" fill="none" stroke="#c0c0c0" stroke-width="2"/>
<rect x="942.9" y="957.5" width="28.4" height="16" fill="#c0c0c0"/>
<rect x="942.9" y="963" width="28.4" height="5" fill="#fff"/>
<path d="M909.3 935.3 V930.9 a8.6 8.6 0 0 1 17.2 0 V935.3 Z" fill="#c0c0c0"/>
<path d="M909.3 995.3 V999.7 a8.6 8.6 0 0 0 17.2 0 V995.3 Z" fill="#c0c0c0"/>
<circle cx="917.9" cy="965.3" r="32" fill="#fff" stroke="#c0c0c0" stroke-width="2"/>
<circle cx="917.9" cy="965.3" r="25.2" fill="none" stroke="#c0c0c0" stroke-width="2"/>
<path d="M915.88 940.18 L915.33 933.4 M919.92 940.18 L920.47 933.4 M928.71 942.54 L931.63 936.39 M932.21 944.56 L936.07 938.96 M938.64 950.99 L944.24 947.13 M940.66 954.49 L946.81 951.57 M943.02 963.28 L949.8 962.73 M943.02 967.32 L949.8 967.87 M940.66 976.11 L946.81 979.03 M938.64 979.61 L944.24 983.47 M932.21 986.04 L936.07 991.64 M928.71 988.06 L931.63 994.21 M919.92 990.42 L920.47 997.2 M915.88 990.42 L915.33 997.2 M907.09 988.06 L904.17 994.21 M903.59 986.04 L899.73 991.64 M897.16 979.61 L891.56 983.47 M895.14 976.11 L888.99 979.03 M892.78 967.32 L886 967.87 M892.78 963.28 L886 962.73 M895.14 954.49 L888.99 951.57 M897.16 950.99 L891.56 947.13 M903.59 944.56 L899.73 938.96 M907.09 942.54 L904.17 936.39" fill="none" stroke="#c0c0c0" stroke-width="1.5"/>
<circle cx="917.9" cy="965.3" r="17.6" fill="none" stroke="#c0c0c0" stroke-width="2"/>
<circle cx="917.9" cy="965.3" r="9.1" fill="none" stroke="#c0c0c0" stroke-width="2"/>
<path d="M987.7 935.3 V930.9 a8.6 8.6 0 0 1 17.2 0 V935.3 Z" fill="#c0c0c0"/>
<path d="M987.7 995.3 V999.7 a8.6 8.6 0 0 0 17.2 0 V995.3 Z" fill="#c0c0c0"/>
<circle cx="996.3" cy="965.3" r="32" fill="#fff" stroke="#c0c0c0" stroke-width="2"/>
<circle cx="996.3" cy="965.3" r="25.2" fill="none" stroke="#c0c0c0" stroke-width="2"/>
<path d="M994.28 940.18 L993.73 933.4 M998.32 940.18 L998.87 933.4 M1007.11 942.54 L1010.03 936.39 M1010.61 944.56 L1014.47 938.96 M1017.04 950.99 L1022.64 947.13 M1019.06 954.49 L1025.21 951.57 M1021.42 963.28 L1028.2 962.73 M1021.42 967.32 L1028.2 967.87 M1019.06 976.11 L1025.21 979.03 M1017.04 979.61 L1022.64 983.47 M1010.61 986.04 L1014.47 991.64 M1007.11 988.06 L1010.03 994.21 M998.32 990.42 L998.87 997.2 M994.28 990.42 L993.73 997.2 M985.49 988.06 L982.57 994.21 M981.99 986.04 L978.13 991.64 M975.56 979.61 L969.96 983.47 M973.54 976.11 L967.39 979.03 M971.18 967.32 L964.4 967.87 M971.18 963.28 L964.4 962.73 M973.54 954.49 L967.39 951.57 M975.56 950.99 L969.96 947.13 M981.99 944.56 L978.13 938.96 M985.49 942.54 L982.57 936.39" fill="none" stroke="#c0c0c0" stroke-width="1.5"/>
<circle cx="996.3" cy="965.3" r="17.6" fill="none" stroke="#c0c0c0" stroke-width="2"/>
<circle cx="996.3" cy="965.3" r="9.1" fill="none" stroke="#c0c0c0" stroke-width="2"/>
<rect x="1102.5" y="957.5" width="28.5" height="16" fill="#c0c0c0"/>
<rect x="1102.5" y="963" width="28.5" height="5" fill="#fff"/>
<path d="M1068.9 935.3 V930.9 a8.6 8.6 0 0 1 17.2 0 V935.3 Z" fill="#c0c0c0"/>
<path d="M1068.9 995.3 V999.7 a8.6 8.6 0 0 0 17.2 0 V995.3 Z" fill="#c0c0c0"/>
<circle cx="1077.5" cy="965.3" r="32" fill="#fff" stroke="#c0c0c0" stroke-width="2"/>
<circle cx="1077.5" cy="965.3" r="25.2" fill="none" stroke="#c0c0c0" stroke-width="2"/>
<path d="M1075.48 940.18 L1074.93 933.4 M1079.52 940.18 L1080.07 933.4 M1088.31 942.54 L1091.23 936.39 M1091.81 944.56 L1095.67 938.96 M1098.24 950.99 L1103.84 947.13 M1100.26 954.49 L1106.41 951.57 M1102.62 963.28 L1109.4 962.73 M1102.62 967.32 L1109.4 967.87 M1100.26 976.11 L1106.41 979.03 M1098.24 979.61 L1103.84 983.47 M1091.81 986.04 L1095.67 991.64 M1088.31 988.06 L1091.23 994.21 M1079.52 990.42 L1080.07 997.2 M1075.48 990.42 L1074.93 997.2 M1066.69 988.06 L1063.77 994.21 M1063.19 986.04 L1059.33 991.64 M1056.76 979.61 L1051.16 983.47 M1054.74 976.11 L1048.59 979.03 M1052.38 967.32 L1045.6 967.87 M1052.38 963.28 L1045.6 962.73 M1054.74 954.49 L1048.59 951.57 M1056.76 950.99 L1051.16 947.13 M1063.19 944.56 L1059.33 938.96 M1066.69 942.54 L1063.77 936.39" fill="none" stroke="#c0c0c0" stroke-width="1.5"/>
<circle cx="1077.5" cy="965.3" r="17.6" fill="none" stroke="#c0c0c0" stroke-width="2"/>
<circle cx="1077.5" cy="965.3" r="9.1" fill="none" stroke="#c0c0c0" stroke-width="2"/>
<path d="M1147.4 935.3 V930.9 a8.6 8.6 0 0 1 17.2 0 V935.3 Z" fill="#c0c0c0"/>
<path d="M1147.4 995.3 V999.7 a8.6 8.6 0 0 0 17.2 0 V995.3 Z" fill="#c0c0c0"/>
<circle cx="1156" cy="965.3" r="32" fill="#fff" stroke="#c0c0c0" stroke-width="2"/>
<circle cx="1156" cy="965.3" r="25.2" fill="none" stroke="#c0c0c0" stroke-width="2"/>
<path d="M1153.98 940.18 L1153.43 933.4 M1158.02 940.18 L1158.57 933.4 M1166.81 942.54 L1169.73 936.39 M1170.31 944.56 L1174.17 938.96 M1176.74 950.99 L1182.34 947.13 M1178.76 954.49 L1184.91 951.57 M1181.12 963.28 L1187.9 962.73 M1181.12 967.32 L1187.9 967.87 M1178.76 976.11 L1184.91 979.03 M1176.74 979.61 L1182.34 983.47 M1170.31 986.04 L1174.17 991.64 M1166.81 988.06 L1169.73 994.21 M1158.02 990.42 L1158.57 997.2 M1153.98 990.42 L1153.43 997.2 M1145.19 988.06 L1142.27 994.21 M1141.69 986.04 L1137.83 991.64 M1135.26 979.61 L1129.66 983.47 M1133.24 976.11 L1127.09 979.03 M1130.88 967.32 L1124.1 967.87 M1130.88 963.28 L1124.1 962.73 M1133.24 954.49 L1127.09 951.57 M1135.26 950.99 L1129.66 947.13 M1141.69 944.56 L1137.83 938.96 M1145.19 942.54 L1142.27 936.39" fill="none" stroke="#c0c0c0" stroke-width="1.5"/>
<circle cx="1156" cy="965.3" r="17.6" fill="none" stroke="#c0c0c0" stroke-width="2"/>
<circle cx="1156" cy="965.3" r="9.1" fill="none" stroke="#c0c0c0" stroke-width="2"/>
<circle cx="598.9" cy="909.7" r="8.2" fill="#fff" stroke="#c0c0c0" stroke-width="1.5"/>
<path d="M592.9 909.7 H604.9 M598.9 903.7 V915.7" fill="none" stroke="#c0c0c0" stroke-width="1.5"/>
<circle cx="678.9" cy="909.7" r="8.2" fill="#fff" stroke="#c0c0c0" stroke-width="1.5"/>
<path d="M672.9 909.7 H684.9" fill="none" stroke="#c0c0c0" stroke-width="1.5"/>
<circle cx="758.5" cy="909.7" r="8.2" fill="#fff" stroke="#c0c0c0" stroke-width="1.5"/>
<path d="M752.5 909.7 H764.5 M758.5 903.7 V915.7" fill="none" stroke="#c0c0c0" stroke-width="1.5"/>
<circle cx="838.4" cy="909.7" r="8.2" fill="#fff" stroke="#c0c0c0" stroke-width="1.5"/>
<path d="M832.4 909.7 H844.4" fill="none" stroke="#c0c0c0" stroke-width="1.5"/>
<circle cx="917.9" cy="910" r="8.2" fill="none" stroke="#c0c0c0" stroke-width="1.5"/>
<path d="M911.9 910 H923.9 M917.9 904 V916" fill="none" stroke="#c0c0c0" stroke-width="1.5"/>
<circle cx="997.9" cy="910" r="8.2" fill="none" stroke="#c0c0c0" stroke-width="1.5"/>
<path d="M991.9 910 H1003.9" fill="none" stroke="#c0c0c0" stroke-width="1.5"/>
<circle cx="1077.9" cy="910" r="8.2" fill="none" stroke="#c0c0c0" stroke-width="1.5"/>
<path d="M1071.9 910 H1083.9 M1077.9 904 V916" fill="none" stroke="#c0c0c0" stroke-width="1.5"/>
<circle cx="1157.4" cy="910" r="8.2" fill="none" stroke="#c0c0c0" stroke-width="1.5"/>
<path d="M1151.4 910 H1163.4" fill="none" stroke="#c0c0c0" stroke-width="1.5"/>
<text x="681.3" y="1029.1" font-size="10.2" font-weight="bold" fill="#c0c0c0" textLength="75.8" lengthAdjust="spacingAndGlyphs">ASSIGNABLE</text>
<text x="1001.3" y="1029.1" font-size="10.2" font-weight="bold" fill="#c0c0c0" textLength="75.8" lengthAdjust="spacingAndGlyphs">ASSIGNABLE</text>
<path d="M1048.6 408.6 H1137.4 A6 6 0 0 1 1143.4 414.6 V518.4 A6 6 0 0 1 1137.4 524.4 H1048.6 A6 6 0 0 1 1042.6 518.4 V414.6 A6 6 0 0 1 1048.6 408.6 Z" fill="none" stroke="#c0c0c0" stroke-width="1.9"/>
<path d="M1048.6 408.6 H1137.4 A6 6 0 0 1 1143.4 414.6 V424.8 H1042.6 V414.6 A6 6 0 0 1 1048.6 408.6 Z" fill="#c0c0c0"/>
<text x="1129.4" y="420.8" font-size="11.6" font-weight="bold" fill="#fff" text-anchor="end" textLength="76" lengthAdjust="spacingAndGlyphs">NETWORK</text>
<path d="M1091 462 H1122.8 V517.8 H1058.4 V494 M1102 465.6 H1116 V503.4 H1088 M1066.4 496 V511 H1100" fill="none" stroke="#c0c0c0" stroke-width="1.9"/>
<path d="M1083.3 477.6 L1089.3 466.3 H1099.8 V477.6 Z" fill="#c0c0c0"/>
<rect x="1102.8" y="467" width="12.4" height="9" fill="#fff" stroke="#c0c0c0" stroke-width="1.6"/>
<path d="M1161.6 408.6 H1293.4 A7 7 0 0 1 1300.4 415.6 V518.2 A7 7 0 0 1 1293.4 525.2 H1161.6 A7 7 0 0 1 1154.6 518.2 V415.6 A7 7 0 0 1 1161.6 408.6 Z" fill="none" stroke="#c0c0c0" stroke-width="2"/>
<path d="M1153.8 494.4 H1301.2 V519 A7 7 0 0 1 1294.2 526 H1160.8 A7 7 0 0 1 1153.8 519 V494.4 Z" fill="#c0c0c0"/>
<text x="1227.8" y="508.2" font-size="11.4" font-weight="bold" fill="#fff" text-anchor="middle" textLength="97.6" lengthAdjust="spacingAndGlyphs">Bluetooth/Wi-Fi</text>
<text x="1227.6" y="522.2" font-size="11.4" font-weight="bold" fill="#fff" text-anchor="middle" textLength="68.6" lengthAdjust="spacingAndGlyphs">ANTENNA</text>
<circle cx="1250" cy="440" r="31" fill="none" stroke="#c0c0c0" stroke-width="2.2"/>
<circle cx="1250" cy="440" r="24.4" fill="none" stroke="#c0c0c0" stroke-width="2"/>
<circle cx="1207.8" cy="425.9" r="8.8" fill="#cfcfcf"/>
<circle cx="1207.8" cy="425.9" r="2.6" fill="none" stroke="#fff" stroke-width="0.9"/>
<circle cx="1207.8" cy="425.9" r="5" fill="none" stroke="#fff" stroke-width="0.9"/>
<circle cx="1207.8" cy="425.9" r="7.4" fill="none" stroke="#fff" stroke-width="0.9"/>
<circle cx="1205.6" cy="428.4" r="1.7" fill="#fff" stroke="#c0c0c0" stroke-width="0.9"/>
<path d="M1162.6 457.6 L1178 445 Q1186 440.6 1189.4 446.6 Q1190.6 451.6 1186 456 L1174.6 469.6" fill="none" stroke="#c0c0c0" stroke-width="1.1"/>
<path d="M1184 437.6 Q1190 436.6 1194.6 440 Q1198.4 443.6 1198 449 L1190.6 455 Q1192 449 1188.6 445.4 Q1186 442.6 1181.4 443 Z" fill="#d4d4d4" stroke="#c0c0c0" stroke-width="0.8"/>
<path d="M1181.6 431.6 Q1196 428 1204.6 447" fill="none" stroke="#c0c0c0" stroke-width="1.7"/>
<path d="M1207.6 443.6 l-2 7.6 l-4.8 -5.4 Z" fill="#c0c0c0"/>
<path d="M1160.2 445 L1172 437 L1170.4 434.6 L1177.6 434.4 L1174.8 441.4 L1173.4 439.2 L1162 447.2 Z" fill="#c0c0c0"/>
</g>
</g>
<g id="chassis">
<!-- receiver chassis outline -->
<path style="stroke-linejoin:round" class="kb" stroke-width="6.4" d="M311 364 H1330.5 Q1334.7 364 1334.7 368.3 V1066"/>
<path class="kb" stroke-width="6.6" d="M430 1070.6 H1322"/>
<path d="M1313.3 1061.8 H1331.5 V1056 H1337.9 V1066 Q1337.9 1076 1327.9 1076 H1318.8 V1070 H1313.3 Z" fill="#000"/>
<!-- antenna -->
<path d="M1230.4 340 L1230.4 461 L1269.6 461 L1269.6 340 Z" fill="#fff"/>
<path class="kb" stroke-width="5.4" d="M1230.6 340 L1230.2 460.4 L1270 460.4 L1268.6 340"/>
<path class="k" stroke-width="1.8" d="M1232 401 H1268"/>
<path class="kb" stroke-width="1.4" d="M1245.8 464.6 H1254"/>
<!-- foot -->
<path class="k" stroke-width="5.8" stroke-linecap="butt" d="M1074 1072 V1079.4 H1014.2 V1122.8 H1088.3 V1127.2 H1170 V1122.8 H1244.6 V1079.4 H1184.9 V1072"/>
<path class="g" stroke-width="1.3" d="M1078 1079.4 H1181"/>
<path class="g" stroke-width="3" d="M1091.6 1121.6 H1166.8"/>
</g>
<g id="callout_top">
<circle cx="795.1" cy="325.0" r="305" fill="#fff"/>
<path d="M1064.51 483.75 A312.7 312.7 0 1 0 1030.08 531.32" fill="none" stroke="#fff" stroke-width="25.4"/>
<path d="M1076.9 485.38 L1191.54 597.65" fill="none" stroke="#fff" stroke-width="8"/>
<path d="M1064.51 483.75 L1030.08 531.32 L1189 609.4 L1196.3 612.8 Z" fill="#fff" fill-opacity="0.45"/>
<!-- AC inlet on the rear panel, perspective view -->
<path d="M561.6 180 Q561.6 158 580 147 L666 109 Q682 102 692.4 110 Q702.8 118 702.8 136 V288 Q702.8 304 690 311 L603 350 Q586 357 574 350 Q561.6 343 561.6 326 Z" fill="#fff"/>
<path class="k" stroke-width="4.2" d="M684 313.6 L603 350 Q586 357 574 350 Q561.6 343 561.6 326 V180 Q561.6 158 580 147 L666 109 Q682 102 692.4 110 Q702.8 118 702.8 136 V221.6"/>
<path class="k" stroke-width="1.8" d="M569.6 344 Q567.6 338 567.6 328 V184 Q567.6 164 584 154.6 L668 117 Q682 111 690.6 116.6 Q699.6 123 699.8 138 V221"/>
<path class="k" stroke-width="3.3" d="M600 327.6 Q590 330.6 590 319 V186 Q590 172 603 166.2 L649 146.4 Q655 144 658 146.4"/>
<path class="k" stroke-width="1.8" d="M658 146.4 L681 162 Q685.4 165 685.4 171 L684.4 221.6 M600 327.6 L649 306.4 Q655 303 658 298.6 L666.4 285 M602.5 209.8 L643.5 235.9 M630.1 289.3 L651.1 301.7"/>
<!-- upper prong -->
<path d="M592 181.5 L612.9 165.3 L645.4 181.5 V200.6 L616.8 212.1 L592 198.7 Z" fill="#fff"/>
<path class="k" stroke-width="3.3" d="M612.9 165.3 L645.4 181.5 V200.6 L616.8 212.1 L592 198.7"/>
<path class="k" stroke-width="2" d="M592 181.5 L617.7 193.9 L645.4 181.5 M617.7 193.9 L616.8 212.1 M626.6 198.4 L643.6 191.4 M627.2 206.6 V199 "/>
<!-- lower prong -->
<path d="M592 235.9 L643.5 263.6 V281.7 L613.9 293.1 L592 278.8 Z" fill="#fff"/>
<path class="k" stroke-width="3.3" d="M592 235.9 L643.5 263.6 V281.7 L613.9 293.1 L592 278.8"/>
<path class="k" stroke-width="2" d="M592 262.6 L614.8 275 L643.5 263.6 M614.8 275 L613.9 293.1 M624.6 279.6 L641.4 273 M625.2 287.6 V280"/>
<!-- arrow -->
<path d="M649.2 242.6 L696.9 226.9 V253.1 L736.9 274 V308.4 L696.9 288.4 V314.1 Z" fill="#000" stroke="#fff" stroke-width="9" stroke-linejoin="miter"/>
<path d="M649.2 242.6 L696.9 226.9 V253.1 L736.9 274 V308.4 L696.9 288.4 V314.1 Z" fill="#000"/>
<!-- plug -->
<g clip-path="url(#topclip)">
<path class="f" stroke-width="5" d="M753.2 255.2 Q753.2 243 767.6 235.9 L798.8 220.6 Q804.4 217.6 809.9 221.1 L875.2 254.2 L892.6 245.4 Q899.1 242.4 905.5 245.4 L933.1 257 Q938 259 942.3 262.5 L1000.3 313.6 Q1008 313.4 1012.8 320.1 L1019.1 332.7 L1036.3 348.4 Q1039.6 351.4 1038.7 356 L1037.1 364 L1100 401 L1060 490 L995.6 456.5 L972.1 470.6 Q969.6 471.6 967.4 469.8 L954.9 459.6 L881.6 445.5 Q876 444 872.4 441.8 L846.7 426.2 Q837.5 421 837.5 413 V404.1 L761.1 366.4 Q753.2 362 753.2 354 Z"/>
<path class="k" stroke-width="1.9" d="M758.4 252 L836.5 290.5"/>
<path class="k" stroke-width="3.4" d="M838.4 404 V290 Q838.4 276 852.2 268 L875.2 256.1"/>
<path class="k" stroke-width="1.9" d="M842.1 285 L875.2 301.1 M933.1 262.5 L892.6 282.7 Q877 291 876.2 306 L870.6 437.2 M877.7 302.6 L985.8 392 M943.3 322.5 L1000 373.6 M985.8 392 Q990 381 1000 373.6 L1033.2 354.6 M985.8 392 Q982 400 981.4 410 L978.6 461"/>
<path class="k" stroke-width="2.3" d="M892 324.6 Q886 320.6 882 323.6 Q878.4 326.6 878.2 334 L875.6 418 Q875.8 430 886 432.2 L959 445.6 Q967 446.6 968 439 L972 406 Q972.8 399 967.6 394.4 Z"/>
<path class="k" stroke-width="1.6" d="M891 328.6 Q886.6 325.6 884 328 Q881.8 330 881.6 335 L879 417 Q879 427 887.6 429 L958.6 442 Q964.4 442.8 965 437.6 L968.8 406 Q969.2 400.6 965.4 397.2 Z"/>
<path class="k" stroke-width="2" d="M897.8 348.8 a3.7 3.7 0 0 1 7.4 .3 L901.8 422.4 a3.7 3.7 0 0 1 -7.4 -.3 Z M919 367.2 a3.7 3.7 0 0 1 7.4 .3 L923.8 425.4 a3.7 3.7 0 0 1 -7.4 -.3 Z M940.6 385.4 a3.7 3.7 0 0 1 7.4 .3 L945.8 430 a3.7 3.7 0 0 1 -7.4 -.3 Z"/>
<!-- latch -->
<path class="k" stroke-width="2.7" d="M976.6 305.6 L965 298.6 Q963.6 297.6 961.6 298.8 L938.4 315 Q936.6 316.6 938.6 318 L950.3 322.9 Z"/>
<path class="k" stroke-width="2.2" d="M956.4 325.8 L982.2 308.7 M961.6 328.2 L987.0 311.4 M966.7 330.6 L991.7 314.1 M971.9 333.0 L996.5 316.7 M977.1 335.4 L1001.2 319.4"/>
<path class="k" stroke-width="2" d="M950.3 322.9 L984.6 338.9 L1008.1 323.3 M984.6 338.9 L1000.3 373.4 M940.4 320 L981.6 340.5"/>
<!-- strain relief -->
<path class="k" stroke-width="2" d="M998.7 447.1 Q999.4 434 1003.6 420 Q1009.7 400.1 1022.2 385.2 Q1026.4 381.4 1030.1 385.2 Q1035 388.6 1033.2 390.7 Q1023 410 1018 420 Q1013.4 434 1012 447.1 L1012.8 458.1"/>
<path class="k" stroke-width="2.6" d="M1058.3 384.4 Q1046 398 1040.4 410 Q1033 426 1031.6 433 Q1031 440 1037.9 440.8 Q1042.6 440.6 1043.4 434 Q1045.6 422 1050.4 411 Q1058 398 1068.5 390.7"/>
<path class="k" stroke-width="2.1" d="M1048.9 472.2 Q1048.6 458 1052.6 442 Q1058 424 1067.7 414.2 Q1071.6 410.6 1075.5 412.6 Q1082 414.6 1080.2 417.3 Q1072 432 1067.6 444 Q1061 460 1058.3 473.7"/>
<path class="k" stroke-width="1.9" d="M1058.3 384.4 L1067.7 389.1"/>
<ellipse cx="1030.1" cy="465.9" rx="2.4" ry="5" class="k" stroke-width="1.9" transform="rotate(-35 1030.1 465.9)"/>
<ellipse cx="828.8" cy="352.3" rx="3.4" ry="5" class="k" stroke-width="2" transform="rotate(-22 828.8 352.3)"/>
</g>
<clipPath id="tipclipT"><path d="M-552.82 2399.02 L2945.42 -1173.42 L801.95 -3272.36 L-2696.28 300.08 Z"/></clipPath>
<path clip-path="url(#tipclipT)" d="M1197.73 614.2 L1064.51 483.75 A312.7 312.7 0 1 0 1030.08 531.32 L1206.48 617.68" fill="none" stroke="#000" stroke-width="9.7" stroke-linejoin="miter" stroke-miterlimit="10"/>
</g>
<g id="acinlet">
<rect x="1201.8" y="595.4" width="92.6" height="125.6" rx="18.5" ry="18.5" fill="#c0c0c0" stroke="#000" stroke-width="2.2"/>
<path d="M1221 608.2 H1259 Q1262.4 608.2 1264.6 610.6 L1279.4 627 Q1281.6 629.4 1281.6 633 V683 Q1281.6 686.4 1279.4 688.8 L1263.4 706 Q1261.2 708.4 1258 708.4 H1221 Q1214.6 708.4 1214.6 702 V614.6 Q1214.6 608.2 1221 608.2 Z" fill="#c0c0c0" stroke="#000" stroke-width="2.2"/>
<rect x="1223" y="618.8" width="33.6" height="21.4" fill="none" stroke="#000" stroke-width="2.2"/>
<rect x="1231.2" y="625.4" width="17.4" height="8.8" fill="none" stroke="#000" stroke-width="2.2"/>
<rect x="1223" y="676.6" width="33.6" height="21.2" fill="none" stroke="#000" stroke-width="2.2"/>
<rect x="1231.2" y="683" width="17.4" height="8.8" fill="none" stroke="#000" stroke-width="2.2"/>
<text x="1151.6" y="669.6" font-size="11.6" font-weight="bold" fill="#000" textLength="37" lengthAdjust="spacingAndGlyphs">AC IN</text>
</g>
<g id="sideplug">
<!-- power cord -->
<path style="stroke-linejoin:round" class="kb" stroke-width="13" d="M1612 659.3 H1681.4 V1241.5 H920"/>
<!-- side view plug -->
<rect x="1312" y="611.8" width="60" height="94.8" fill="#fff"/>
<rect x="1316.6" y="618.6" width="70" height="80.6" fill="#fff" stroke="#000" stroke-width="3"/>
<path d="M1385.6 614.2 H1445.4 L1481.6 621.6 V697 L1446 705.2 H1385.6 Z" fill="#fff" stroke="#000" stroke-width="3" stroke-linejoin="round"/>
<rect x="1483" y="623.6" width="10" height="71" fill="#fff" stroke="#000" stroke-width="2.6" stroke-linejoin="round"/>
<path d="M1493.4 627 L1581.6 630.2 V687.8 L1493.4 690.4 Z" fill="#fff" stroke="#000" stroke-width="3" stroke-linejoin="round"/>
<path class="k" stroke-width="1.9" d="M1418.6 630.8 H1461.4 L1478.6 639.8 V678.8 L1461.4 687 H1418.6 Z"/>
<path class="k" stroke-width="1.9" d="M1431 636.4 H1466 V682 H1431 Z M1438.4 636.4 V682 M1445.6 636.4 V682 M1452.8 636.4 V682 M1459.6 636.4 V682"/>
<path class="k" stroke-width="1.5" d="M1502.4 629 V654 a4.6 4.6 0 0 0 9.2 0 V629.4 M1502.4 633.6 H1511.6 M1538.6 630.4 V654 a4.6 4.6 0 0 0 9.2 0 V630.6 M1538.6 634.6 H1547.8"/>
<path class="k" stroke-width="1.5" d="M1521.8 688.8 V663.6 a4.6 4.6 0 0 1 9.2 0 V688.6 M1521.8 684 H1531 M1556.4 687.8 V663.6 a4.6 4.6 0 0 1 9.2 0 V687.6 M1556.4 683.4 H1565.6"/>
<path d="M1600 650 H1625.6 Q1619.4 662 1616.6 670 H1600 Z" fill="#fff"/>
<path class="kb" stroke-width="3.2" d="M1582 642.8 H1628 M1582 675.8 H1616"/>
<path class="k" stroke-width="3" d="M1625.4 621 C1631 634 1630 644 1624.5 652 C1618 662 1613.6 672 1615 681.2 C1615.6 687 1617 692 1619 697.7"/>
</g>
<g id="callout_bot">
<path d="M502.6 999.21 A249.5 257.2 0 1 0 450.9 1054" fill="none" stroke="#fff" stroke-width="12.8"/>
<path d="M661.7 1182.2 L502.6 999.21 A249.5 257.2 0 1 0 450.9 1054 L654.5 1177.4 Z" fill="#fff"/>
<!-- wall outlet, perspective view -->
<path d="M101.9 738 Q101.9 734 105 732 L250 643.8 Q253 642.6 256 644.6 Q259.9 647 259.9 651 V811 L111.7 904.6 Q108 906 105 904.4 Q101.9 902.6 101.9 899 Z" fill="#fff"/>
<path class="k" stroke-width="3.6" d="M216.4 839.4 L111.7 904.6 Q108 906 105 904.4 Q101.9 902.6 101.9 899 V738 Q101.9 734 105 732 L250 643.8 Q253 642.6 256 644.6 Q259.9 647 259.9 651 V788 M259.8 799 Q260.6 806 257.6 812"/>
<path class="k" stroke-width="1.8" d="M108.2 905 V742 L254.4 650.6"/>
<path class="k" stroke-width="1.9" d="M232.6 785.6 C246 752 246.6 716 232 702.6 C213 685 176 702 148 746 C122 788 117.6 832 138 848.6 C150 858 170 856 189 842"/>
<ellipse cx="155.2" cy="800.3" rx="9.4" ry="16" transform="rotate(27 155.2 800.3)" class="k" stroke-width="2.1"/>
<path class="kb" stroke-width="4.4" d="M161.9 787.1 A8.2 14.8 27 0 0 148.5 813.5"/>
<ellipse cx="214.9" cy="760.4" rx="9.4" ry="16" transform="rotate(27 214.9 760.4)" class="k" stroke-width="2.1"/>
<path class="kb" stroke-width="4.4" d="M221.6 747.2 A8.2 14.8 27 0 0 208.2 773.6"/>
<!-- arrow -->
<path d="M191.7 791 L252 796.9 L234.2 807.8 L275.7 836.4 L252 850.3 L209.5 822.6 L189.8 832.5 Z" fill="#000" stroke="#fff" stroke-width="8" stroke-linejoin="miter"/>
<path d="M191.7 791 L252 796.9 L234.2 807.8 L275.7 836.4 L252 850.3 L209.5 822.6 L189.8 832.5 Z" fill="#000"/>
<!-- plug -->
<g clip-path="url(#botclip)">
<!-- pins -->
<path class="w" stroke-width="3.6" d="M340 838 L307 816.4 Q301 813.4 296.6 818.6 Q292.6 824.6 297 830 L320 846 Z"/>
<path class="w" stroke-width="3.6" d="M286 884 L248 860.4 Q242 857.4 238 862.6 Q234.4 868.4 238.6 874 L276 901 Z"/>
<!-- body -->
<path class="f" stroke-width="4.6" d="M316 831 Q298 852 281.5 877.4 Q274 892 272.2 905 Q271.2 914 273.2 920.9 L266.5 928.4 L267.2 937.4 L301 965.9 Q305 968 310 967.4 L323.4 962.9 Q332 968 340 971.9 Q355 977.4 370 980.9 L400 985.4 Q406 987.6 408.9 992.9 L411.6 998.9 L416 999.6 L436.5 1008.8 L438.6 1003.6 L444 1006.3 V1012.6 L480 1034 L516 980 L485 947.9 L479.6 951.4 L478.8 944.1 L456.8 923.6 L457.6 918 L451.4 913 L445.2 911.8 Q438 898 431.5 889.4 Q418 872.6 401.4 858 V849.7 L393.1 846 L393.8 838.8 L396.9 838.5 L397.6 831 L363.9 810.7 Q359 808.6 354.9 809.2 Q345 810.4 337 813.7 Q329.4 817 329.4 822.6 L330.2 834 Z"/>
<path class="k" stroke-width="1.9" d="M333.9 825 L351.9 835.5 L351.2 849.7 M351.9 835.5 Q364 826.6 378.9 825.7 L396.6 831.4"/>
<path class="k" stroke-width="3.2" d="M316 831 L330 836.4 L351.2 849.7"/>
<path class="k" stroke-width="1.9" d="M339.9 852 Q326 864 316 877.4 Q306 892 301 907.4 Q297 918 296.5 926 L298 941.9 M384.9 853.4 L401.4 858 M384.9 853.4 Q368 866 354.9 877.4 Q338 892 325 902.9 Q314 912 309.6 922 Q306.4 931 307.4 941.9 Q309 950 316 956.9 L323.4 962.9 M315.2 925.4 Q327 933 340 938.9 Q355 945.6 370 950.9 Q385 955 400 956.9 Q408 959.4 414.9 964.4 L446 983 L480 1003"/>
<path class="k" stroke-width="1.9" d="M275.5 907.4 L295 919.4 M273.2 920.9 L298 941.9 M269.5 931.4 L293.5 949.4 M293.5 949.4 L298 941.9 L304 945.4 L302.6 959.6 L296.4 953 Z"/>
<path class="k" stroke-width="2.7" d="M339.6 851 Q336.4 860 337 870 Q338 879 341.4 881.9"/>
<path class="k" stroke-width="1.9" d="M341.4 881.9 Q346 883.4 350.4 880.4 Q355 876.6 357.9 869.9 Q360.6 863 360.9 857.9 Q360.6 852 354.9 849.7"/>
<!-- ribbed grip -->
<path class="k" stroke-width="2.1" d="M379.2 934.2 L411.6 900.6 L452.6 923 L419 956.6 Z M452.6 923 L457.2 926 L424.6 961 L419 956.6 M379.2 934.2 L381 938.4 L419.6 961 L424.6 961 M383.8 936.7 L416.2 903.1 M388.4 939.2 L420.7 905.6 M392.9 941.7 L425.3 908.1 M397.5 944.2 L429.8 910.6 M402 946.7 L434.4 913.1 M406.6 949.2 L438.9 915.6 M411.1 951.7 L443.5 918.1 M415.7 954.2 L448 920.6"/>
<!-- rear details -->
<path class="k" stroke-width="2.6" d="M463 961 Q460 958 462.6 955.6 L470 950.4 Q473.4 948.6 475.6 951.6"/>
<path class="k" stroke-width="2.5" d="M454 1004 Q456 990 463 980 Q468 974 474 974.6 Q480 976 478.6 982 L470 996 L462.6 1009"/>
<path class="k" stroke-width="1.9" d="M454 1004 L462.6 1009 M470 996 L497 1010"/>
<path class="k" stroke-width="2.6" d="M493 978 Q491 983 494 986 L502 990.6"/>
</g>
<clipPath id="tipclipB"><path d="M-1224.9 2822.54 L2548.3 -458.14 L579.89 -2722.07 L-3193.32 558.62 Z"/></clipPath>
<path clip-path="url(#tipclipB)" d="M663.01 1183.71 L502.6 999.21 A249.5 257.2 0 1 0 450.9 1054 L669.94 1186.9" fill="none" stroke="#000" stroke-width="6.9" stroke-linejoin="miter" stroke-miterlimit="10"/>
</g>
<g id="bottom_icons">
<!-- outlet symbol -->
<rect x="384.6" y="1166.9" width="179.3" height="144.1" fill="#fff" stroke="#000" stroke-width="5.2"/>
<circle cx="474" cy="1237.7" r="57.5" fill="none" stroke="#000" stroke-width="2"/>
<circle cx="448.5" cy="1237.7" r="9.1" fill="none" stroke="#000" stroke-width="4.6"/>
<circle cx="499.7" cy="1237.7" r="9.1" fill="none" stroke="#000" stroke-width="4.6"/>
<!-- plug symbol, side view -->
<path class="kb" stroke-width="4.7" d="M688 1233.2 H622.8 a9.05 9.05 0 0 0 0 18.1 H688"/>
<rect x="690.2" y="1173.7" width="30.7" height="136.4" fill="#fff" stroke="#000" stroke-width="4.7"/>
<path class="kb" stroke-width="1.6" d="M690 1203.3 H721 M690 1280.1 H721"/>
<path class="kb" stroke-width="3.6" d="M690 1230 H721 M690 1253.4 H721"/>
<path class="kb" stroke-width="4.4" d="M721 1213.4 L891 1219.5 V1263.8 L721 1270.5"/>
<path class="kb" stroke-width="3.6" d="M771.7 1214.6 V1211.8 L802.6 1208.6 L807.9 1193.7 H816.5 V1216 M771.7 1269.4 V1272.6 L802.6 1275.8 L807.9 1289.7 H816.5 V1267.6"/>
<path class="kb" stroke-width="3" d="M849.5 1219 V1242.8 H860.2 V1219.4 M833.5 1265.6 V1241.7 H844.2 V1265.2 M864.4 1264.4 V1241.7 H876.2 V1264"/>
<path d="M910 1232 H925 Q923 1238 927.4 1244 Q930 1248 931 1252 H910 Z" fill="#fff"/>
<path class="kb" stroke-width="4" d="M893.2 1234.2 H926 M893.2 1249.2 H930"/>
<path class="k" stroke-width="3" d="M926.8 1218.4 C921.6 1228 922.4 1236 927.6 1244 C932.4 1251 933 1258 930.6 1265"/>
</g>
<g id="text">
<g fill="#000" stroke="#000" stroke-width="0.7" stroke-linejoin="round" font-size="43">
<text transform="translate(1106 1298.5) scale(1 1.045)" x="0" y="0" style="word-spacing:-1.6px;letter-spacing:0.16px">Power cord (supplied)</text>
<text transform="translate(231.2 1381.2) scale(1 1.045)" x="0" y="0" style="word-spacing:0.5px">To household power outlet</text>
<text transform="translate(283.5 1441.1) scale(1 1.045)" x="0" y="0" style="word-spacing:-1.4px">(AC 230 V, 50/60 Hz)</text>
</g>
</g>
</svg>
</body>
</html>
